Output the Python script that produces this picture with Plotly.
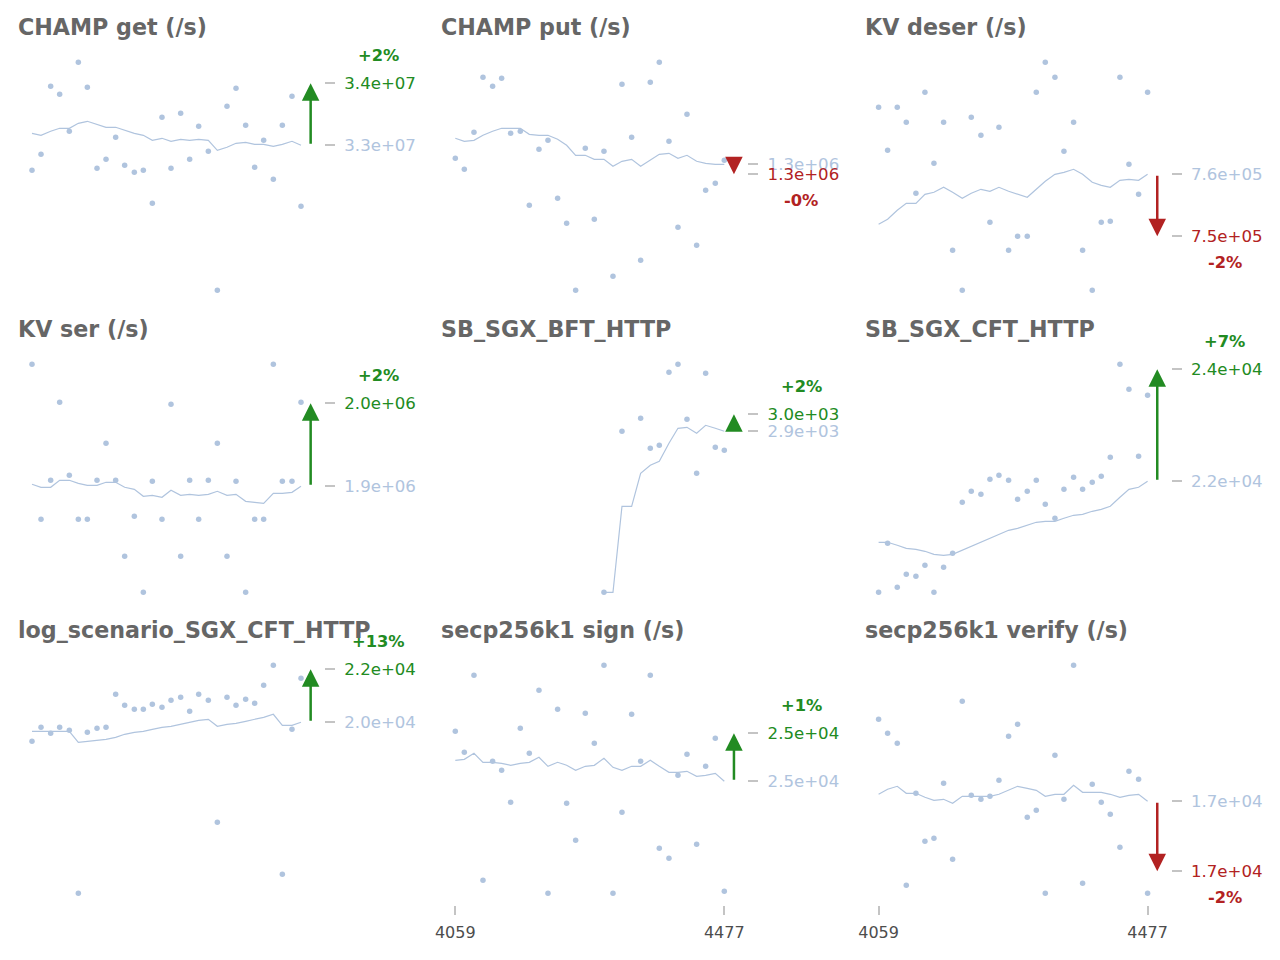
import plotly.graph_objects as go

# ---------------- data ----------------
X = [4059, 4073, 4088, 4102, 4117, 4131, 4145, 4160, 4174, 4189,
     4203, 4218, 4232, 4246, 4261, 4275, 4290, 4304, 4318, 4333,
     4347, 4362, 4376, 4391, 4405, 4419, 4434, 4448, 4463, 4477]
X_TICKS = [4059, 4477]
ARROW_X = 4492  # position of the "latest" marker, one step after the last run

titles = ["CHAMP get (/s)", "CHAMP put (/s)", "KV deser (/s)",
          "KV ser (/s)", "SB_SGX_BFT_HTTP", "SB_SGX_CFT_HTTP",
          "log_scenario_SGX_CFT_HTTP", "secp256k1 sign (/s)", "secp256k1 verify (/s)"]

champ_get = [3.275e7, 3.291e7, 3.359e7, 3.351e7, 3.314e7, 3.383e7, 3.358e7, 3.277e7, 3.286e7, 3.308e7,
             3.280e7, 3.273e7, 3.275e7, 3.242e7, 3.328e7, 3.277e7, 3.332e7, 3.286e7, 3.319e7, 3.294e7,
             3.155e7, 3.339e7, 3.357e7, 3.320e7, 3.278e7, 3.305e7, 3.266e7, 3.320e7, 3.349e7, 3.239e7]
champ_get_trend = [3.312e7, 3.310e7, 3.314e7, 3.317e7, 3.317e7, 3.322e7, 3.324e7, 3.321e7, 3.318e7, 3.318e7,
                   3.315e7, 3.312e7, 3.310e7, 3.305e7, 3.307e7, 3.304e7, 3.306e7, 3.305e7, 3.306e7, 3.305e7,
                   3.295e7, 3.298e7, 3.302e7, 3.303e7, 3.301e7, 3.301e7, 3.299e7, 3.301e7, 3.304e7, 3.300e7]
champ_get_latest = 3.362e7

champ_put = [1300600, 1299500, 1303200, 1308700, 1307800, 1308600, 1303100, 1303300, 1295900, 1301500,
             1302400, 1296600, 1294100, 1287400, 1301600, 1294500, 1301300, 1288800, 1308000, 1302700,
             1290400, 1308200, 1310200, 1302300, 1293700, 1305000, 1291900, 1297400, 1298100, 1300400]
champ_put_trend = [1302600, 1302300, 1302400, 1302900, 1303300, 1303600, 1303600, 1303600, 1303000, 1302900,
                   1302900, 1302500, 1301900, 1300900, 1300900, 1300500, 1300500, 1299800, 1300300, 1300500,
                   1299800, 1300400, 1301000, 1301100, 1300600, 1300900, 1300300, 1300100, 1300000, 1300000]
champ_put_latest = 1299000

kv_deser = [778500, 767750, 778500, 774750, 757000, 782250, 764500, 774750, 742750, 732750,
            776000, 771500, 749750, 773500, 742750, 746250, 746250, 782250, 789750, 786000,
            767500, 774750, 742750, 732750, 749750, 750000, 786000, 764250, 756750, 782250]
kv_deser_trend = [749250, 750500, 752750, 754500, 754500, 756750, 757250, 758500, 757250, 755750,
                  757000, 758000, 757500, 758500, 757500, 756750, 756000, 758000, 760000, 761750,
                  762250, 763000, 761750, 759750, 759000, 758500, 760250, 760500, 760250, 761750]
kv_deser_latest = 746250

kv_ser = [1981000, 1903500, 1923000, 1962000, 1925500, 1903500, 1903500, 1923000, 1941500, 1923000,
          1885000, 1905000, 1867000, 1922500, 1903500, 1961000, 1885000, 1923000, 1903500, 1923000,
          1941500, 1885000, 1922500, 1867000, 1903500, 1903500, 1981000, 1922500, 1922500, 1962000]
kv_ser_trend = [1921000, 1919500, 1919500, 1923000, 1923000, 1921500, 1920500, 1920500, 1922000, 1922000,
                1919500, 1918500, 1915000, 1915500, 1914500, 1918000, 1915500, 1916000, 1915500, 1916000,
                1917500, 1915500, 1916000, 1912500, 1912000, 1911500, 1916500, 1916500, 1917000, 1920000]
kv_ser_latest = 1961500

bft = [None] * 16 + [2436, None, 2919, None, 2958, 2868, 2877, 3096, 3120, 2955, 2793, 3093, 2871, 2862]
bft_trend = [None] * 16 + [2436, 2436, 2694, 2694, 2793, 2817, 2829, 2883, 2928, 2931, 2913, 2937, 2928, 2919]
bft_latest = 2970

cft = [20846, 21532, 20916, 21098, 21070, 21224, 20846, 21196, 21392, 22106,
       22260, 22218, 22428, 22484, 22414, 22148, 22260, 22414, 22078, 21882,
       22288, 22456, 22288, 22386, 22470, 22736, 24038, 23688, 22750, 23604]
cft_trend = [21546, 21546, 21504, 21462, 21448, 21420, 21378, 21364, 21378, 21434,
             21490, 21546, 21602, 21658, 21714, 21742, 21784, 21826, 21840, 21840,
             21882, 21924, 21938, 21980, 22008, 22050, 22176, 22288, 22316, 22400]
cft_latest = 23968

log_cft = [18750, 19450, 19150, 19450, 19300, 11150, 19200, 19400, 19450, 21100,
           20550, 20350, 20350, 20600, 20450, 20800, 20950, 20250, 21100, 20800,
           14700, 20950, 20550, 20850, 20650, 21550, 22550, 12100, 19350, 21900]
log_cft_trend = [19250, 19250, 19250, 19250, 19250, 18700, 18750, 18800, 18850, 18950,
                 19100, 19200, 19250, 19350, 19450, 19500, 19600, 19700, 19800, 19850,
                 19500, 19600, 19650, 19750, 19850, 19950, 20100, 19550, 19550, 19700]
log_cft_latest = 22350

sign = [25150, 25045, 25430, 24405, 25000, 24955, 24795, 25165, 25040, 25355,
        24340, 25260, 24790, 24605, 25240, 25090, 25480, 24340, 24745, 25235,
        25000, 25430, 24565, 24515, 24930, 25035, 24585, 24975, 25115, 24350]
sign_trend = [25005, 25010, 25040, 24995, 24995, 24990, 24980, 24990, 24995, 25020,
              24975, 24995, 24980, 24955, 24975, 24980, 25015, 24970, 24955, 24975,
              24975, 25005, 24975, 24945, 24945, 24950, 24925, 24930, 24940, 24900]
sign_latest = 25140

verify = [17610, 17540, 17490, 16780, 17240, 17000, 17015, 17290, 16910, 17700,
          17230, 17210, 17225, 17305, 17525, 17585, 17120, 17155, 16740, 17430,
          17210, 17880, 16790, 17285, 17195, 17135, 16970, 17350, 17310, 16740]
verify_trend = [17235, 17260, 17275, 17240, 17240, 17220, 17205, 17210, 17190, 17225,
                17225, 17225, 17225, 17235, 17255, 17275, 17265, 17255, 17225, 17235,
                17235, 17280, 17245, 17245, 17245, 17235, 17220, 17230, 17235, 17200]
verify_latest = 16850

panels = [
    (champ_get, champ_get_trend, champ_get_latest),
    (champ_put, champ_put_trend, champ_put_latest),
    (kv_deser, kv_deser_trend, kv_deser_latest),
    (kv_ser, kv_ser_trend, kv_ser_latest),
    (bft, bft_trend, bft_latest),
    (cft, cft_trend, cft_latest),
    (log_cft, log_cft_trend, log_cft_latest),
    (sign, sign_trend, sign_latest),
    (verify, verify_trend, verify_latest),
]

# ---------------- style / layout ----------------
W, H = 1280, 960
FONT = "DejaVu Sans"
PT_COLOR = "#b0c4de"
UP = "#228b22"
DOWN = "#b22222"
TICK_GREY = "#c4c4c4"
COL_L = [18.0, 441.3, 864.6]
PW = 306.0
ROW_T = [50.9, 352.9, 653.9]
PH = 250.8
XR = [4037.25, 4512.74]

fig = go.Figure()
layout = dict(
    width=W, height=H, margin=dict(l=0, r=0, t=0, b=0),
    paper_bgcolor="white", plot_bgcolor="white",
    showlegend=False, hovermode=False,
    font=dict(family=FONT, size=16, color="#444"),
)
annotations = []

for i, (pts, trend, latest) in enumerate(panels):
    r, c = divmod(i, 3)
    n = i + 1
    xa, ya = f"x{n}", f"y{n}"
    xk, yk = ("xaxis" if n == 1 else f"xaxis{n}"), ("yaxis" if n == 1 else f"yaxis{n}")

    vals = [v for v in pts if v is not None]
    lo, hi = min(vals), max(vals)
    pad = 0.05 * (hi - lo)
    mean = trend[-1]
    up = latest >= mean
    col = UP if up else DOWN
    pct = (latest - mean) / mean * 100

    fig.add_trace(go.Scatter(x=X, y=trend, mode="lines", xaxis=xa, yaxis=ya,
                             line=dict(color=PT_COLOR, width=1.2), connectgaps=False))
    fig.add_trace(go.Scatter(x=X, y=pts, mode="markers", xaxis=xa, yaxis=ya,
                             marker=dict(color=PT_COLOR, size=5.5, line=dict(width=0)),
                             cliponaxis=False))

    show_x = (r == 2 and c > 0)
    layout[xk] = dict(
        domain=[COL_L[c] / W, (COL_L[c] + PW) / W], range=XR, anchor=ya,
        showgrid=False, zeroline=False, showline=False,
        showticklabels=show_x, tickmode="array", tickvals=X_TICKS if show_x else [],
        ticks="outside" if show_x else "", ticklen=9, tickwidth=2, tickcolor=TICK_GREY,
        ticklabelstandoff=4,
        tickfont=dict(family=FONT, size=16, color="#4d4d4d"), automargin=False,
    )
    layout[yk] = dict(
        domain=[1 - (ROW_T[r] + PH) / H, 1 - ROW_T[r] / H], range=[lo - pad, hi + pad],
        anchor=xa, side="right", showgrid=False, zeroline=False, showline=False,
        tickmode="array", tickvals=[mean, latest],
        ticktext=[f'<span style="color:{PT_COLOR}">{mean:.1e}</span>',
                  f'<span style="color:{col}">{latest:.1e}</span>'],
        ticks="outside", ticklen=10, tickwidth=2, tickcolor=TICK_GREY,
        ticklabelstandoff=6,
        tickfont=dict(family=FONT, size=16.6, color=PT_COLOR), automargin=False,
    )

    # arrow from the trend's last value to the latest value
    annotations.append(dict(
        x=ARROW_X, y=latest, ax=ARROW_X, ay=mean, xref=xa, yref=ya, axref=xa, ayref=ya,
        text="", showarrow=True, arrowhead=2, arrowsize=1.4, arrowwidth=2.5,
        arrowcolor=col, standoff=0, startstandoff=0,
    ))
    # percentage label
    annotations.append(dict(
        x=(COL_L[c] + PW + 54) / W, y=latest, xref="paper", yref=ya,
        text=f"<b>{pct:+.0f}%</b>", showarrow=False, xanchor="center", yanchor="middle",
        yshift=28 if up else -26, font=dict(family=FONT, size=16.3, color=col),
    ))
    # panel title
    annotations.append(dict(
        x=(COL_L[c] - 2) / W, y=1 - (ROW_T[r] - 24) / H, xref="paper", yref="paper",
        text=f"<b>{titles[i]}</b>", showarrow=False, xanchor="left", yanchor="middle",
        font=dict(family=FONT, size=22.2, color="#666666"),
    ))

layout["annotations"] = annotations
fig.update_layout(**layout)
fig.write_html("out.html")
